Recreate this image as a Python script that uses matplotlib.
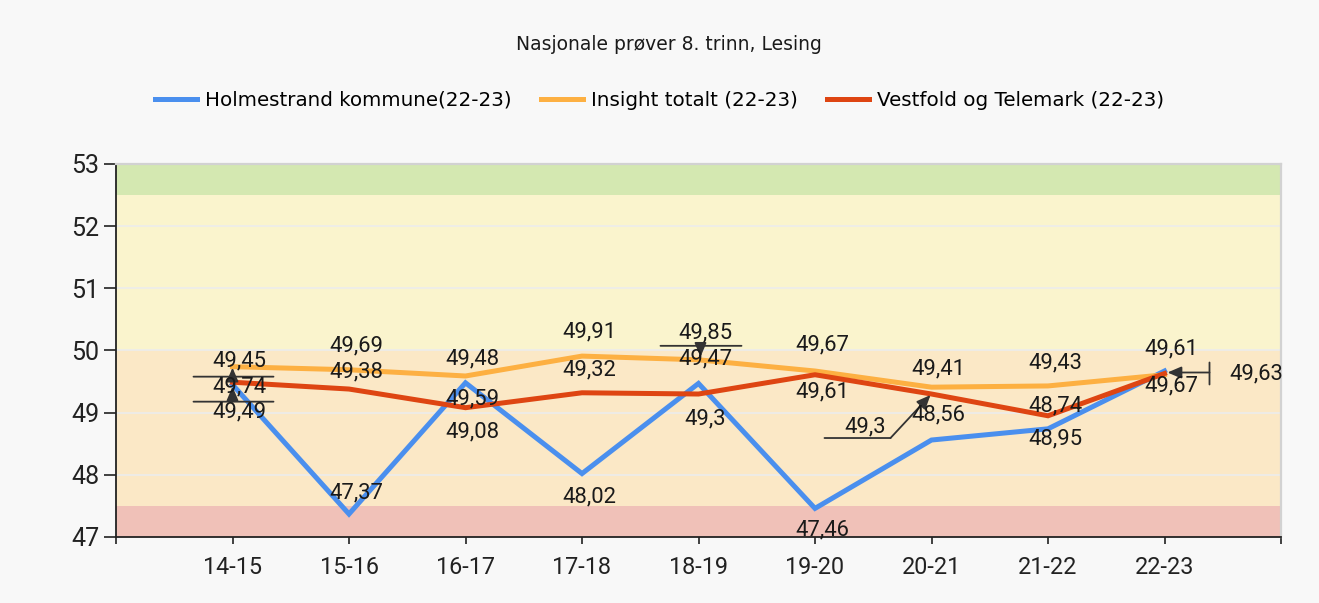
"""Nasjonale prøver 8. trinn, Lesing - line chart with score bands."""
import matplotlib
matplotlib.use("Agg")
import matplotlib.pyplot as plt  # noqa: E402
from matplotlib.transforms import offset_copy

# --- data -------------------------------------------------------------
categories = ["14-15", "15-16", "16-17", "17-18", "18-19",
              "19-20", "20-21", "21-22", "22-23"]
holmestrand = [49.45, 47.37, 49.48, 48.02, 49.47, 47.46, 48.56, 48.74, 49.67]
insight = [49.74, 49.69, 49.59, 49.91, 49.85, 49.67, 49.41, 49.43, 49.61]
vestfold = [49.49, 49.38, 49.08, 49.32, 49.30, 49.61, 49.30, 48.95, 49.63]
series_names = ["Holmestrand kommune(22-23)", "Insight totalt (22-23)",
                "Vestfold og Telemark (22-23)"]

band_edges = [47, 47.5, 50, 52.5, 53]
y_ticks = [47, 48, 49, 50, 51, 52, 53]

# --- style ------------------------------------------------------------
_BLUE = "#4a8fee"
_ORANGE = "#fdb042"
_RED = "#de4512"
_BANDS = ["#f0c1b8", "#fbe8c6", "#faf4cd", "#d4e8b1"]
_BG = "#f8f8f8"
_NUM_FONT = ["Roboto", "DejaVu Sans"]

# label offsets in pixels (dx, dy up) from each point
offsets = [
    [(7, 24), (7, 21), (7, 24), (7, -23), (7, 25), (7, -22), (7, 25), (7, 23), (7, -15)],
    [(7, -20), (7, 24), (7, -23), (7, 24), (7, 27), (7, 26), (7, 18), (7, 23), (7, 26)],
    [(7, -30), (7, 17), (7, -24), (7, 23), (7, -25), (7, -17), (-66, -33), (7, -23), (92, 0)],
]

# callout segments: (series, index, arrow?, start px, end px)
callouts = [
    (1, 0, False, (-39, -10), (41, -10)),
    (1, 0, False, (-39, -35), (41, -35)),
    (1, 0, True, (0, -10), (0, -1)),
    (1, 0, True, (0, -35), (0, -20)),
    (1, 4, False, (-38, 14), (43, 14)),
    (1, 4, True, (2, 14), (2, 3)),
    (2, 6, False, (-107, -44), (-41, -44)),
    (2, 6, True, (-41, -44), (-1, -1)),
    (2, 8, True, (45, 1), (3, 1)),
    (2, 8, False, (45, 11), (45, -11)),
]


def _seg(ax, x, y, p0, p1, arrow):
    t0 = offset_copy(ax.transData, fig=ax.figure, x=p0[0], y=p0[1], units="dots")
    t1 = offset_copy(ax.transData, fig=ax.figure, x=p1[0], y=p1[1], units="dots")
    style = "-|>,head_length=0.7,head_width=0.3" if arrow else "-"
    ax.annotate("", xy=(x, y), xycoords=t1, xytext=(x, y), textcoords=t0,
                arrowprops=dict(arrowstyle=style, color="#333333", lw=1.3,
                                shrinkA=0, shrinkB=0, mutation_scale=12),
                annotation_clip=False, zorder=6)


fig = plt.figure(figsize=(13.19, 6.03), dpi=100, facecolor=_BG)
ax = fig.add_axes([116 / 1319, 66 / 603, 1165 / 1319, 373 / 603])

# score bands
for lo, hi, c in zip(band_edges[:-1], band_edges[1:], _BANDS):
    ax.axhspan(lo, hi, color=c, lw=0, zorder=0)
for yv in y_ticks[1:-1]:
    ax.axhline(yv, color="#ececec", lw=1.2, zorder=1)

x = list(range(len(categories)))
all_series = [holmestrand, insight, vestfold]
colors = [_BLUE, _ORANGE, _RED]
lines = []
for vals, col, name in zip(all_series, colors, series_names):
    ln, = ax.plot(x, vals, color=col, lw=3.6, label=name, zorder=3,
                  solid_joinstyle="miter")
    lines.append(ln)

# data labels
for vals, offs in zip(all_series, offsets):
    for xi, v, (dx, dy) in zip(x, vals, offs):
        ax.annotate(f"{v:g}".replace(".", ","), (xi, v),
                    xytext=(dx * 0.72, dy * 0.72), textcoords="offset points",
                    ha="center", va="center", fontsize=15.8,
                    family=_NUM_FONT, color="#1a1a1a", zorder=7,
                    annotation_clip=False)

for s, i, arrow, p0, p1 in callouts:
    _seg(ax, x[i], all_series[s][i], p0, p1, arrow)

ax.set_xlim(-1, len(categories))
ax.set_ylim(band_edges[0], band_edges[-1])
ax.set_yticks(y_ticks)
ax.set_yticklabels([str(t) for t in y_ticks], family=_NUM_FONT, fontsize=18)
ax.set_xticks(range(-1, len(categories) + 1))
ax.set_xticklabels([""] + categories + [""], family=_NUM_FONT, fontsize=16.8)
ax.tick_params(axis="y", length=9, width=1.2, pad=3, colors="#222222")
ax.tick_params(axis="x", length=5, width=1.2, pad=9, colors="#222222")
for side in ("left", "bottom"):
    ax.spines[side].set_color("#222222")
    ax.spines[side].set_linewidth(1.3)
for side in ("top", "right"):
    ax.spines[side].set_color("#d2d2d2")
    ax.spines[side].set_linewidth(1.6)

fig.text(669 / 1319, 1 - 45 / 603, "Nasjonale prøver 8. trinn, Lesing",
         ha="center", va="center", fontsize=13.5, color="#1a1a1a")
fig.legend(handles=lines, loc="center", bbox_to_anchor=(0.5, 1 - 100 / 603),
           ncol=3, frameon=False, fontsize=14.3, handlelength=2.1,
           handletextpad=0.4, columnspacing=1.5)

fig.savefig("out.png", dpi=100, facecolor=_BG)
plt.close(fig)
